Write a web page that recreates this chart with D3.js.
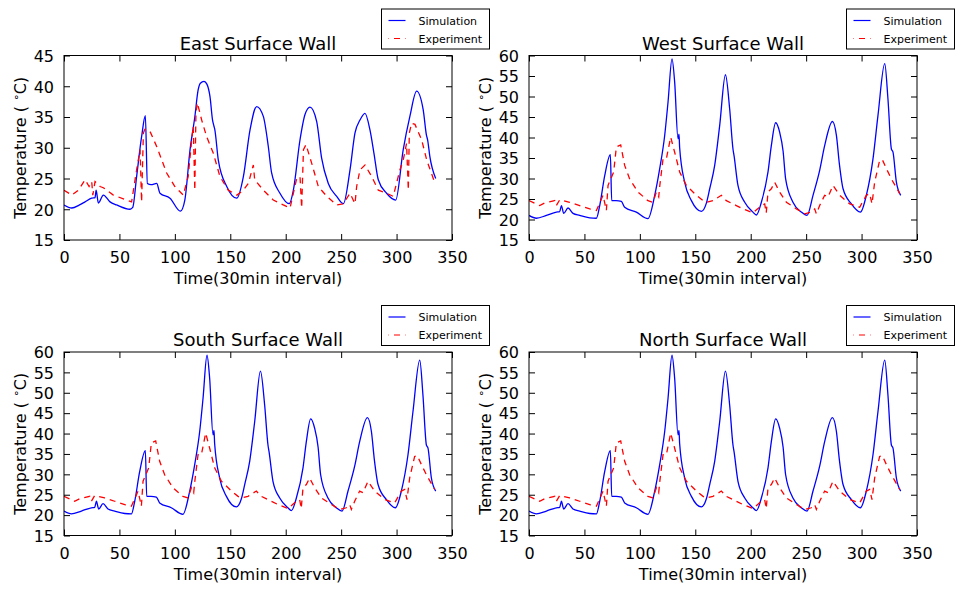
<!DOCTYPE html>
<html>
<head>
<meta charset="utf-8">
<script src="https://cdn.jsdelivr.net/npm/d3@7"></script>
<style>
  html, body { margin: 0; padding: 0; background: #fff; }
  svg { display: block; font-family: "DejaVu Sans", sans-serif; }
</style>
</head>
<body>
<svg id="chart" width="962" height="594"></svg>
<script>
// ---------- DATA (time step, temperature °C) ----------
const xTicks = [0, 50, 100, 150, 200, 250, 300, 350];
const yTicksEast = [15, 20, 25, 30, 35, 40, 45];
const yTicksOther = [15, 20, 25, 30, 35, 40, 45, 50, 55, 60];
const seriesNames = ["Simulation", "Experiment"];
const panelTitles = ["East Surface Wall", "West Surface Wall", "South Surface Wall", "North Surface Wall"];

const eastSim = [[0,20.7],[7,20.2],[14,20.7],[19,21.2],[25,21.8],[28,21.9],[29,23.1],[31,21],[35.5,22.3],[41.5,21.2],[47.5,20.7],[59.5,20],[62,20.3],[65.5,25.3],[70,31.8],[73.4,35.2],[75.2,24.2],[78.5,24],[83.6,24.2],[86.6,22.6],[95.6,21.8],[105,19.7],[109,21.5],[113.7,29.7],[118,35],[121,39.4],[123,40.5],[126.3,40.8],[129,40.3],[131.7,38.3],[134,34.5],[135.3,33.5],[136,33],[139.2,28],[146.8,23.7],[155.8,21.8],[161.8,25.3],[167.8,32.9],[173.8,36.7],[179.8,35.1],[184.3,30.2],[187.3,25.9],[194.8,22.6],[203.2,20.9],[206.9,23.1],[212.9,31.3],[217.4,35.4],[221.9,36.6],[227.9,34.3],[232.4,28.3],[238.4,24.2],[246,22.1],[252,20.9],[258,26.4],[262.5,32.4],[267,34.5],[271.5,35.6],[276,32.9],[279.6,29.1],[283.5,24.8],[291,22.6],[299.2,21.5],[306,29.7],[312,35.1],[318.1,39.2],[324,36.2],[327,32],[328,31.3],[330,28.6],[335.3,25]];

const eastExp = [[0,23.1],[7,22.3],[13,23.1],[19,24.8],[22.6,23.7],[25,24.5],[26,22.3],[28,24.5],[32.5,23.7],[35.5,23.5],[44.5,22.3],[56.5,21.5],[61,21.2],[65.5,26.4],[68.6,29.7],[70,21.2],[71.6,32.4],[73,33],[76,32.9],[78,32.5],[83.6,30.2],[92.6,25.9],[100,23.7],[107.6,22.3],[112,25.3],[115,30.9],[116.6,33.5],[118,23.1],[119,35.6],[120.3,37.3],[124.2,34.5],[128.7,31.8],[134.7,29.1],[140.7,25.3],[148.2,23.1],[156,22.3],[161.8,23.1],[166.3,24.2],[170.8,27.2],[172,24.8],[179.8,23.1],[188.8,21.5],[197.8,20.7],[203.9,20.2],[209.9,25],[212.9,25.3],[214.4,20.2],[216,29.7],[218.3,30.5],[223.4,27.5],[229.4,23.7],[237,22.1],[246,20.7],[252,20.9],[258,22.6],[262.5,20.9],[264,23.7],[267,26.4],[271.5,27.2],[277.6,25.3],[283.5,23.1],[291,22.6],[297,22.1],[303,26.4],[306,28],[309,30.7],[310.6,23.1],[311.5,32.4],[313.6,34],[316.6,33.8],[322.6,31.3],[327.2,28],[334.7,24.2]];

const westSim = [[0,21],[6.7,20.3],[15.7,21],[24.7,21.8],[27.7,21.9],[29.2,23.4],[31.3,21.5],[35.2,22.8],[39.7,21.5],[45.7,21],[54.8,20.4],[60.8,20.3],[63.8,23.4],[68.3,30.7],[73.4,35.8],[74.6,24.6],[78.5,24.6],[83.3,24.4],[86.3,23],[96.8,21.8],[107.3,20.2],[113.4,25.9],[117.9,32.4],[122.4,40.5],[125.4,48.6],[129,59.2],[131.4,53.5],[134.4,39.7],[135.3,40.8],[135.9,37.5],[140.4,29.1],[146.5,24.6],[155.5,22],[160,24],[163,27.5],[167.5,33.2],[172,42.9],[177.2,55.3],[181,47],[184,37.2],[185,35.5],[188.5,28.3],[194.6,24.2],[202,21.8],[205.1,21.1],[209.6,24.2],[215.6,31.6],[218.6,38],[222.5,43.6],[226.1,41.3],[229.2,36.7],[231.5,29.9],[238.1,24.2],[245.7,21.8],[250.8,21],[256.2,25.9],[262.2,32],[266.7,38],[273.7,43.9],[277.3,40.5],[280,33.5],[283.3,27.5],[290.8,23.8],[299,21.8],[304.3,25.9],[310.3,34.8],[314.8,45.4],[320.9,58],[323.8,49.4],[326.9,37.2],[328.3,36.5],[331.4,29.1],[335.3,25.9]];

const westExp = [[0,24.6],[9.6,23.4],[14,24],[23.2,24.6],[24.7,23.4],[27.7,24.8],[36.7,24.2],[45.7,23.4],[54.8,22.6],[60.8,22.2],[66.8,25.9],[69.8,22.2],[71.3,28.3],[76.4,31.6],[78.8,37.7],[82.7,38.2],[86.3,33.2],[90.8,29.9],[98.3,26.7],[107.3,24.6],[111.8,24.2],[114.9,26.7],[117,25.5],[118,28.3],[120.9,34.8],[123.9,34.8],[127.8,40.1],[131.4,36.4],[135.9,31.6],[142,28.3],[151,25.9],[157,24.6],[160,24.2],[166,24.6],[173.5,25.9],[178,24.6],[187,23.4],[193,22.6],[202,21.6],[209.6,23.4],[212.6,23.8],[214,21.6],[215.6,26.7],[218.6,27.5],[221.6,29.1],[226.1,26.7],[232.2,24.2],[241.2,22.6],[248.7,21.4],[254.7,21.8],[257.7,22.6],[259.2,21.4],[262.2,23.4],[266.7,25.9],[269.7,25.5],[274.2,28.3],[280.3,25.9],[289.3,23.8],[298.3,23],[304.3,25.9],[307.3,26.3],[309.4,23.8],[311.8,29.1],[316.3,34.4],[318.7,34.6],[322.4,32.4],[326.9,29.9],[334.4,26.3]];

// South and North walls read identical to the West wall in the picture
const southSim = westSim, southExp = westExp;
const northSim = westSim, northExp = westExp;

// ---------- LAYOUT ----------
const panels = [
  {title: panelTitles[0], sim: eastSim,  exp: eastExp,  yDom: [15,45], yTicks: yTicksEast,  x0: 64,  x1: 452, y0: 55.5, y1: 240, lx: 381.5, ylab: 20},
  {title: panelTitles[1], sim: westSim,  exp: westExp,  yDom: [15,60], yTicks: yTicksOther, x0: 529, x1: 917, y0: 55.5, y1: 240, lx: 846.5, ylab: 485},
  {title: panelTitles[2], sim: southSim, exp: southExp, yDom: [15,60], yTicks: yTicksOther, x0: 64,  x1: 452, y0: 352, y1: 535.5, lx: 381.5, ylab: 20},
  {title: panelTitles[3], sim: northSim, exp: northExp, yDom: [15,60], yTicks: yTicksOther, x0: 529, x1: 917, y0: 352, y1: 535.5, lx: 846.5, ylab: 485}
];

const svg = d3.select("#chart");
const TICK = 6;

panels.forEach(p => {
  const x = d3.scaleLinear().domain([0, 350]).range([p.x0, p.x1]);
  const y = d3.scaleLinear().domain(p.yDom).range([p.y1, p.y0]);
  const g = svg.append("g");

  const cid = "clip" + p.x0 + "_" + Math.round(p.y0);
  svg.append("clipPath").attr("id", cid).append("rect")
    .attr("x", p.x0).attr("y", p.y0).attr("width", p.x1 - p.x0).attr("height", p.y1 - p.y0);

  const simLine = d3.line().x(d => x(d[0])).y(d => y(d[1])).curve(d3.curveMonotoneX);
  const expLine = d3.line().x(d => x(d[0])).y(d => y(d[1]));

  const lines = g.append("g").attr("clip-path", `url(#${cid})`);
  lines.append("path").datum(p.sim).attr("d", simLine)
    .attr("fill", "none").attr("stroke", "#0000ff").attr("stroke-width", 1.3)
    .attr("stroke-linejoin", "round");
  lines.append("path").datum(p.exp).attr("d", expLine)
    .attr("fill", "none").attr("stroke", "#ff0000").attr("stroke-width", 1.3)
    .attr("stroke-dasharray", "6,5");

  const axB = d3.axisBottom(x).tickValues(xTicks).tickSize(-TICK).tickPadding(TICK + 6).tickFormat(d3.format("d"));
  const axT = d3.axisTop(x).tickValues(xTicks).tickSize(-TICK).tickFormat("");
  const axL = d3.axisLeft(y).tickValues(p.yTicks).tickSize(-TICK).tickPadding(TICK + 4).tickFormat(d3.format("d"));
  const axR = d3.axisRight(y).tickValues(p.yTicks).tickSize(-TICK).tickFormat("");

  const gb = g.append("g").attr("transform", `translate(0,${p.y1})`).call(axB);
  const gt = g.append("g").attr("transform", `translate(0,${p.y0})`).call(axT);
  const gl = g.append("g").attr("transform", `translate(${p.x0},0)`).call(axL);
  const gr = g.append("g").attr("transform", `translate(${p.x1},0)`).call(axR);
  [gb, gt, gl, gr].forEach(a => {
    a.select(".domain").remove();
    a.selectAll("line").attr("stroke", "#000").attr("stroke-width", 1);
    a.selectAll("text").attr("fill", "#000").style("font-size", "16px")
      .style("font-family", "'DejaVu Sans', sans-serif");
  });
  gb.selectAll("text").attr("dy", "0.71em");
  gl.selectAll("text").attr("dy", "0.36em");

  g.append("rect").attr("x", p.x0).attr("y", p.y0)
    .attr("width", p.x1 - p.x0).attr("height", p.y1 - p.y0)
    .attr("fill", "none").attr("stroke", "#000").attr("stroke-width", 1);

  const cx = (p.x0 + p.x1) / 2;
  g.append("text").attr("x", cx).attr("y", p.y0 - 6).attr("text-anchor", "middle")
    .style("font-size", "18px").text(p.title);
  g.append("text").attr("x", cx).attr("y", p.y1 + 44).attr("text-anchor", "middle")
    .style("font-size", "16px").text("Time(30min interval)");
  const cy = (p.y0 + p.y1) / 2;
  const yl = g.append("text").attr("transform", `translate(${p.ylab + 6},${cy}) rotate(-90)`)
    .attr("text-anchor", "middle").style("font-size", "16px");
  yl.append("tspan").text("Temperature ( ");
  yl.append("tspan").attr("dy", -6).style("font-size", "11px").text("\u2218");
  yl.append("tspan").attr("dy", 6).text("C)");

  const lg = g.append("g").attr("transform", `translate(${p.lx},${p.y0 - 46.5})`);
  lg.append("rect").attr("width", 108).attr("height", 40)
    .attr("fill", "#fff").attr("stroke", "#000").attr("stroke-width", 1);
  const colors = ["#0000ff", "#ff0000"];
  seriesNames.forEach((name, i) => {
    const yy = 11.5 + i * 18;
    const ln = lg.append("line").attr("x1", 7).attr("x2", 24).attr("y1", yy).attr("y2", yy)
      .attr("stroke", colors[i]).attr("stroke-width", 1.2);
    if (i === 1) ln.attr("stroke-dasharray", "6,5").attr("stroke-dashoffset", -5.5);
    lg.append("text").attr("x", 37).attr("y", yy + 4).style("font-size", "11px").text(name);
  });
});
</script>
</body>
</html>
